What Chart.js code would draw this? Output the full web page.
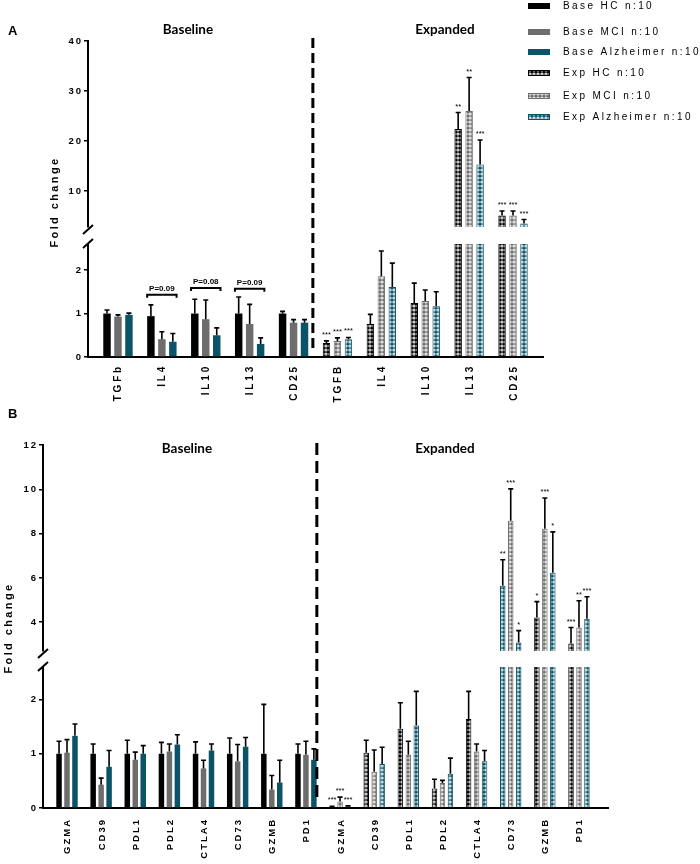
<!DOCTYPE html>
<html>
<head>
<meta charset="utf-8">
<script src="https://cdn.jsdelivr.net/npm/chart.js@4.4.1/dist/chart.umd.min.js"></script>
<style>
  body { margin: 0; background: #fff; }
  .layer { position: absolute; left: 0; top: 0; width: 700px; height: 864px; pointer-events: none; }
  .xlab {
    position: absolute;
    writing-mode: vertical-rl;
    transform: translateX(-50%) rotate(180deg);
    font-family: Arial, "Liberation Sans", sans-serif;
    font-weight: bold;
    line-height: 1;
    color: #000;
    white-space: nowrap;
  }
</style>
</head>
<body>
<div class="layer"><canvas id="a-top"></canvas></div>
<div class="layer"><canvas id="a-bot"></canvas></div>
<div class="layer"><canvas id="b-top"></canvas></div>
<div class="layer"><canvas id="b-bot"></canvas></div>
<div class="layer" id="labels"></div>
<script>
const FONT = "Arial, 'Liberation Sans', sans-serif";
const TITLE_FONT = "Lato, 'Open Sans', sans-serif";

const groupNames = ["Base HC n:10", "Base MCI n:10", "Base Alzheimer n:10", "Exp HC n:10", "Exp MCI n:10", "Exp Alzheimer n:10"];
const groupColors = ["#000000", "#6d6d6d", "#0b5468"];

// panel A - cytokines / CD25 (first 5 baseline, last 5 expanded)
const markersA = ["TGFb", "IL4", "IL10", "IL13", "CD25", "TGFB", "IL4", "IL10", "IL13", "CD25"];
const baseHcA = [1.0, 0.94, 1.0, 1.0, 1.0];
const baseHcErrA = [0.08, 0.26, 0.33, 0.38, 0.05];
const baseMciA = [0.93, 0.41, 0.87, 0.76, 0.79];
const baseMciErrA = [0.04, 0.17, 0.44, 0.45, 0.07];
const baseAdA = [0.97, 0.35, 0.5, 0.3, 0.79];
const baseAdErrA = [0.04, 0.19, 0.17, 0.14, 0.07];
const expHcA = [0.32, 0.76, 1.24, 22.4, 5.1];
const expHcErrA = [0.05, 0.22, 0.46, 3.3, 0.9];
const expMciA = [0.37, 1.86, 1.29, 26.0, 5.1];
const expMciErrA = [0.07, 0.58, 0.25, 6.7, 0.9];
const expAdA = [0.41, 1.61, 1.17, 15.3, 3.5];
const expAdErrA = [0.04, 0.55, 0.33, 4.9, 0.8];
const expHcStarsA = ["***", "", "", "**", "***"];
const expMciStarsA = ["***", "", "", "**", "***"];
const expAdStarsA = ["***", "", "", "***", "***"];
const pLabelsA = ["", "P=0.09", "P=0.08", "P=0.09", ""];
const pHeightsA = [null, 1.43, 1.59, 1.57, null];

// panel B - checkpoint / effector markers (first 8 baseline, last 8 expanded)
const markersB = ["GZMA", "CD39", "PDL1", "PDL2", "CTLA4", "CD73", "GZMB", "PD1", "GZMA", "CD39", "PDL1", "PDL2", "CTLA4", "CD73", "GZMB", "PD1"];
const baseHcB = [1.0, 1.0, 1.0, 1.0, 1.0, 1.0, 1.0, 1.0];
const baseHcErrB = [0.23, 0.18, 0.25, 0.21, 0.22, 0.29, 0.91, 0.18];
const baseMciB = [1.02, 0.43, 0.89, 1.04, 0.73, 0.86, 0.34, 0.98];
const baseMciErrB = [0.24, 0.12, 0.14, 0.14, 0.15, 0.31, 0.26, 0.25];
const baseAdB = [1.33, 0.76, 1.0, 1.17, 1.06, 1.13, 0.47, 0.89];
const baseAdErrB = [0.22, 0.30, 0.15, 0.18, 0.12, 0.17, 0.41, 0.2];
const expHcB = [0.02, 1.02, 1.46, 0.36, 1.64, 5.65, 4.21, 3.04];
const expHcErrB = [0.01, 0.23, 0.48, 0.17, 0.51, 1.17, 0.72, 0.72];
const expMciB = [0.12, 0.67, 0.98, 0.46, 1.04, 8.58, 8.22, 3.76];
const expMciErrB = [0.08, 0.40, 0.25, 0.05, 0.14, 1.44, 1.39, 1.21];
const expAdB = [0.03, 0.81, 1.52, 0.63, 0.86, 3.08, 6.23, 4.16];
const expAdErrB = [0.01, 0.31, 0.63, 0.29, 0.20, 0.54, 1.85, 0.99];
const expHcStarsB = ["***", "", "", "", "", "**", "*", "***"];
const expMciStarsB = ["***", "", "", "", "", "***", "***", "**"];
const expAdStarsB = ["***", "", "", "", "", "*", "*", "***"];

// white ring texture used for the expanded bars
function dotted(color) {
  const c = document.createElement("canvas");
  c.width = 4;
  c.height = 4;
  const g = c.getContext("2d");
  g.fillStyle = color;
  g.fillRect(0, 0, 4, 4);
  g.fillStyle = "#fff";
  g.beginPath();
  g.arc(2, 2, 1.6, 0, Math.PI * 2);
  g.fill();
  g.fillStyle = color;
  g.beginPath();
  g.arc(2, 2, 0.6, 0, Math.PI * 2);
  g.fill();
  return g.createPattern(c, "repeat");
}

function buildDatasets(p) {
  const none = new Array(p.base[0].length).fill(null);
  const sets = [];
  p.base.forEach((vals, k) => sets.push({
    label: groupNames[k],
    data: vals.concat(none),
    errors: p.baseErr[k].concat(none),
    stars: none.concat(none),
    backgroundColor: groupColors[k],
    borderWidth: 0,
  }));
  p.exp.forEach((vals, k) => {
    // the CD73 "Exp HC" bar of panel B is drawn in teal in the original figure
    const cols = none.concat(vals).map((_, j) => (p.recolor && p.recolor[k] === j) ? groupColors[2] : groupColors[k]);
    sets.push({
      label: groupNames[k + 3],
      data: none.concat(vals),
      errors: none.concat(p.expErr[k]),
      stars: none.concat(p.expStars[k]),
      backgroundColor: cols.map(dotted),
      borderColor: cols,
      borderWidth: 1,
    });
  });
  return sets;
}

// fixed axis size, letter-spaced y tick labels
function fitAxis(size, spacing) {
  return scale => {
    if (!scale.options.display) return;
    if (scale.isHorizontal()) scale.height = size;
    else scale.width = size;
    if (scale.__spaced || !spacing) return;
    scale.__spaced = true;
    const draw = scale.drawLabels;
    scale.drawLabels = function (area) {
      this.ctx.letterSpacing = spacing + "px";
      draw.call(this, area);
      this.ctx.letterSpacing = "0px";
    };
  };
}

// error bars and significance stars
const errorBars = {
  id: "errorBars",
  afterDatasetsDraw(chart) {
    const ctx = chart.ctx;
    const y = chart.scales.y;
    const area = chart.chartArea;
    ctx.save();
    ctx.beginPath();
    ctx.rect(area.left - 3, area.top - 1, area.right - area.left + 6, area.bottom - area.top + 1);
    ctx.clip();
    ctx.strokeStyle = "#000";
    ctx.lineWidth = 1.6;
    chart.data.datasets.forEach((ds, i) => {
      const meta = chart.getDatasetMeta(i);
      ds.data.forEach((v, j) => {
        if (v == null) return;
        const x = meta.data[j].x;
        const top = y.getPixelForValue(v + ds.errors[j]);
        ctx.beginPath();
        ctx.moveTo(x, y.getPixelForValue(v));
        ctx.lineTo(x, top);
        ctx.moveTo(x - 2.5, top);
        ctx.lineTo(x + 2.5, top);
        ctx.stroke();
      });
    });
    ctx.restore();

    ctx.save();
    ctx.fillStyle = "#000";
    ctx.font = "7.5px " + FONT;
    ctx.textAlign = "center";
    ctx.textBaseline = "alphabetic";
    chart.data.datasets.forEach((ds, i) => {
      const meta = chart.getDatasetMeta(i);
      ds.data.forEach((v, j) => {
        if (v == null || !ds.stars[j]) return;
        const t = v + ds.errors[j];
        if (t < y.min || t > y.max) return;
        ctx.fillText(ds.stars[j], meta.data[j].x, y.getPixelForValue(t) - 4);
      });
    });
    ctx.restore();
  },
};

// axis break marks, divider, titles, legend, brackets
const decor = {
  id: "decor",
  afterDraw(chart, args, o) {
    const ctx = chart.ctx;
    const area = chart.chartArea;
    const xs = chart.scales.x;
    const ys = chart.scales.y;
    ctx.save();
    ctx.strokeStyle = "#000";
    ctx.fillStyle = "#000";
    ctx.lineWidth = 2;

    const yb = o.breakAt === "bottom" ? area.bottom + 2 : area.top - 1;
    ctx.beginPath();
    ctx.moveTo(area.left - 5, yb + 5);
    ctx.lineTo(area.left + 5, yb - 4);
    ctx.stroke();

    if (o.divider) {
      const dx = xs.getPixelForValue(o.divider.at);
      ctx.save();
      ctx.lineWidth = 3;
      ctx.setLineDash(o.divider.dash);
      ctx.beginPath();
      ctx.moveTo(dx, o.divider.from);
      ctx.lineTo(dx, o.divider.to);
      ctx.stroke();
      ctx.restore();
    }

    if (o.letter) {
      ctx.font = "bold 13px " + FONT;
      ctx.textAlign = "left";
      ctx.textBaseline = "middle";
      ctx.fillText(o.letter[0], o.letter[1], o.letter[2]);
    }

    if (o.titles) {
      ctx.font = "bold 13.5px " + TITLE_FONT;
      ctx.textAlign = "center";
      ctx.textBaseline = "middle";
      o.titles.forEach(t => ctx.fillText(t[0], t[1], t[2]));
    }

    if (o.yTitle) {
      ctx.save();
      ctx.translate(o.yTitle[0], o.yTitle[1]);
      ctx.rotate(-Math.PI / 2);
      ctx.font = "bold 11px " + FONT;
      ctx.letterSpacing = "2.4px";
      ctx.textAlign = "center";
      ctx.textBaseline = "middle";
      ctx.fillText("Fold change", 0, 0);
      ctx.restore();
    }

    if (o.brackets) {
      const first = chart.getDatasetMeta(0);
      const last = chart.getDatasetMeta(2);
      ctx.font = "bold 8px " + FONT;
      ctx.textAlign = "center";
      ctx.textBaseline = "bottom";
      o.brackets.labels.forEach((label, j) => {
        if (!label) return;
        const l = first.data[j].x - first.data[j].width / 2;
        const r = last.data[j].x + last.data[j].width / 2;
        const by = ys.getPixelForValue(o.brackets.heights[j]);
        ctx.beginPath();
        ctx.moveTo(l, by + 3);
        ctx.lineTo(l, by);
        ctx.lineTo(r, by);
        ctx.lineTo(r, by + 3);
        ctx.stroke();
        ctx.fillText(label, (l + r) / 2, by - 2);
      });
    }

    if (o.legend) {
      const lg = o.legend;
      ctx.font = "10px " + FONT;
      ctx.letterSpacing = "2.4px";
      ctx.textAlign = "left";
      ctx.textBaseline = "middle";
      lg.rows.forEach((ry, k) => {
        const col = groupColors[k % 3];
        ctx.fillStyle = k < 3 ? col : dotted(col);
        ctx.fillRect(lg.x, ry - 3, lg.w, 6);
        if (k >= 3) {
          ctx.lineWidth = 1;
          ctx.strokeStyle = col;
          ctx.strokeRect(lg.x + 0.5, ry - 2.5, lg.w - 1, 5);
        }
        ctx.fillStyle = "#000";
        ctx.fillText(groupNames[k], lg.textX, ry);
      });
    }
    ctx.restore();
  },
};

function makeChart(id, p) {
  return new Chart(document.getElementById(id), {
    type: "bar",
    data: {
      labels: p.markers.map((_, i) => i),
      datasets: buildDatasets(p),
    },
    options: {
      responsive: true,
      maintainAspectRatio: false,
      animation: false,
      events: [],
      datasets: {
        bar: { skipNull: true, categoryPercentage: p.catPct, barPercentage: p.barPct },
      },
      layout: { padding: p.padding },
      scales: {
        x: {
          type: "linear",
          display: p.showX,
          min: p.xMin,
          max: p.xMax,
          offset: false,
          grid: { display: false, drawTicks: false },
          border: { color: "#000", width: 2 },
          ticks: { display: false, stepSize: 1 },
          afterFit: fitAxis(p.xHeight, 0),
        },
        y: {
          min: p.yMin,
          max: p.yMax,
          grid: { drawOnChartArea: false, drawTicks: true, tickLength: 4, color: "#000", lineWidth: 1.5 },
          border: { color: "#000", width: 2 },
          ticks: {
            stepSize: p.yStep,
            includeBounds: false,
            padding: 1,
            color: "#000",
            font: { family: FONT, size: 9.5, weight: "bold" },
          },
          afterFit: fitAxis(p.yWidth, 2),
        },
      },
      plugins: {
        legend: { display: false },
        tooltip: { enabled: false },
        decor: p.decor,
      },
    },
    plugins: [errorBars, decor],
  });
}

// vertical category labels, read bottom-to-top, placed on the chart's x scale
function placeLabels(chart, names, size, spacing, pad) {
  const box = document.getElementById("labels");
  const xs = chart.scales.x;
  names.forEach((name, i) => {
    const d = document.createElement("div");
    d.className = "xlab";
    d.textContent = name;
    d.style.fontSize = size + "px";
    d.style.letterSpacing = spacing + "px";
    d.style.left = xs.getPixelForValue(i) + 0.5 + "px";
    d.style.top = chart.chartArea.bottom + pad + "px";
    box.appendChild(d);
  });
}

const panelA = {
  markers: markersA,
  base: [baseHcA, baseMciA, baseAdA],
  baseErr: [baseHcErrA, baseMciErrA, baseAdErrA],
  exp: [expHcA, expMciA, expAdA],
  expErr: [expHcErrA, expMciErrA, expAdErrA],
  expStars: [expHcStarsA, expMciStarsA, expAdStarsA],
  catPct: 0.75, barPct: 0.68,
  xMin: -0.683, xMax: 9.683,
  xHeight: 60,
  yWidth: 45,
};

const panelB = {
  markers: markersB,
  base: [baseHcB, baseMciB, baseAdB],
  baseErr: [baseHcErrB, baseMciErrB, baseAdErrB],
  exp: [expHcB, expMciB, expAdB],
  expErr: [expHcErrB, expMciErrB, expAdErrB],
  expStars: [expHcStarsB, expMciStarsB, expAdStarsB],
  recolor: [13, -1, -1],
  catPct: 0.7, barPct: 0.69,
  xMin: -0.703, xMax: 15.85,
  xHeight: 56,
  yWidth: 38,
};

makeChart("a-top", Object.assign({}, panelA, {
  showX: false, yMin: 2.8, yMax: 40, yStep: 10,
  padding: { left: 43, right: 157, top: 41, bottom: 637 },
  decor: { breakAt: "bottom" },
}));

const chartA = makeChart("a-bot", Object.assign({}, panelA, {
  showX: true, yMin: 0, yMax: 2.6, yStep: 1,
  padding: { left: 43, right: 157, top: 244, bottom: 447 },
  decor: {
    breakAt: "top",
    divider: { at: 4.44, from: 38, to: 352, dash: [10, 5] },
    letter: ["A", 8, 31],
    titles: [["Baseline", 188, 30], ["Expanded", 445, 30]],
    yTitle: [55, 202],
    brackets: { labels: pLabelsA, heights: pHeightsA },
    legend: { x: 528, w: 22, textX: 563, rows: [6, 32, 52, 73, 96, 117] },
  },
}));

makeChart("b-top", Object.assign({}, panelB, {
  showX: false, yMin: 2.7, yMax: 12, yStep: 2,
  padding: { left: 5, right: 92, top: 445, bottom: 213 },
  decor: { breakAt: "bottom" },
}));

const chartB = makeChart("b-bot", Object.assign({}, panelB, {
  showX: true, yMin: 0, yMax: 2.6, yStep: 1,
  padding: { left: 5, right: 92, top: 667, bottom: 0 },
  decor: {
    breakAt: "top",
    divider: { at: 7.32, from: 443, to: 803, dash: [12, 6] },
    letter: ["B", 8, 414],
    titles: [["Baseline", 187, 449], ["Expanded", 445, 449]],
    yTitle: [9, 628],
  },
}));

placeLabels(chartA, markersA, 10, 2.8, 7);
placeLabels(chartB, markersB, 9.5, 2, 10);
</script>
</body>
</html>
